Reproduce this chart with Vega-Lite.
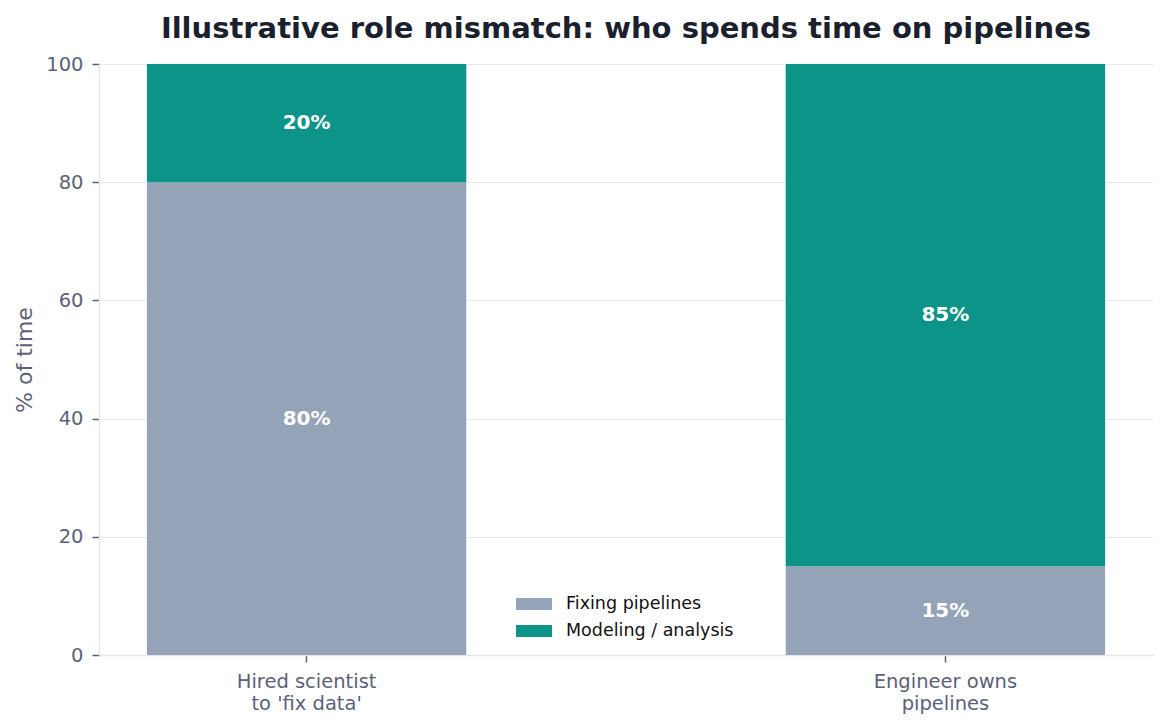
{
  "$schema": "https://vega.github.io/schema/vega-lite/v6.json",
  "width": 1054,
  "height": 591,
  "autosize": {"type": "none"},
  "padding": {"left": 99, "top": 64, "right": 15, "bottom": 73},
  "background": "white",
  "config": {
    "font": "DejaVu Sans",
    "view": {"stroke": null},
    "axis": {
      "labelFont": "DejaVu Sans",
      "titleFont": "DejaVu Sans",
      "labelColor": "#5b6277",
      "titleColor": "#5b6277",
      "domainColor": "#e5e7ef",
      "domainWidth": 1.5,
      "tickColor": "#5b6277",
      "tickSize": 7,
      "tickWidth": 1.5,
      "gridColor": "#e6e8ef",
      "gridWidth": 1.2
    }
  },
  "title": {
    "text": "Illustrative role mismatch: who spends time on pipelines",
    "font": "DejaVu Sans",
    "fontSize": 29,
    "fontWeight": "bold",
    "color": "#1b1f2e",
    "anchor": "middle",
    "offset": 10
  },
  "data": {
    "values": [
      {"team": "Hired scientist|to 'fix data'", "activity": "Fixing pipelines", "rank": 1, "pct": 80},
      {"team": "Hired scientist|to 'fix data'", "activity": "Modeling / analysis", "rank": 2, "pct": 20},
      {"team": "Engineer owns|pipelines", "activity": "Fixing pipelines", "rank": 1, "pct": 15},
      {"team": "Engineer owns|pipelines", "activity": "Modeling / analysis", "rank": 2, "pct": 85}
    ]
  },
  "transform": [
    {"stack": "pct", "groupby": ["team"], "sort": [{"field": "rank"}], "as": ["lo", "hi"]},
    {"calculate": "(datum.lo + datum.hi) / 2", "as": "mid"},
    {"calculate": "format(datum.pct, 'd') + '%'", "as": "label"}
  ],
  "encoding": {
    "x": {
      "field": "team",
      "type": "nominal",
      "sort": null,
      "scale": {"paddingInner": 0.5, "paddingOuter": 0.075},
      "axis": {
        "title": null,
        "labelAngle": 0,
        "labelFontSize": 19.5,
        "labelLineHeight": 22,
        "labelPadding": 10,
        "labelBaseline": "top",
        "labelExpr": "split(datum.label, '|')",
        "grid": false
      }
    }
  },
  "layer": [
    {
      "mark": {"type": "bar"},
      "encoding": {
        "y": {
          "field": "lo",
          "type": "quantitative",
          "scale": {"domain": [0, 100], "nice": false},
          "axis": {
            "title": "% of time",
            "titleFontSize": 22,
            "titleFontWeight": "normal",
            "titlePadding": 9,
            "labelFontSize": 19.5,
            "labelPadding": 9,
            "values": [0, 20, 40, 60, 80, 100],
            "grid": true
          }
        },
        "y2": {"field": "hi"},
        "color": {
          "field": "activity",
          "type": "nominal",
          "scale": {
            "domain": ["Fixing pipelines", "Modeling / analysis"],
            "range": ["#94a3b8", "#0d9488"]
          },
          "legend": {
            "title": null,
            "orient": "none",
            "legendX": 417,
            "legendY": 522,
            "symbolType": "M-1,-0.333H1V0.333H-1Z",
            "symbolSize": 1296,
            "labelFontSize": 17.5,
            "labelLimit": 400,
            "labelColor": "#111111",
            "labelFont": "DejaVu Sans",
            "rowPadding": -10,
            "labelOffset": 14,
            "symbolStrokeWidth": 0
          }
        },
        "order": {"field": "rank"}
      }
    },
    {
      "mark": {"type": "text", "color": "white", "fontWeight": "bold", "fontSize": 20, "baseline": "middle", "align": "center"},
      "encoding": {
        "y": {"field": "mid", "type": "quantitative"},
        "text": {"field": "label", "type": "nominal"},
        "detail": {"field": "activity"}
      }
    }
  ]
}
